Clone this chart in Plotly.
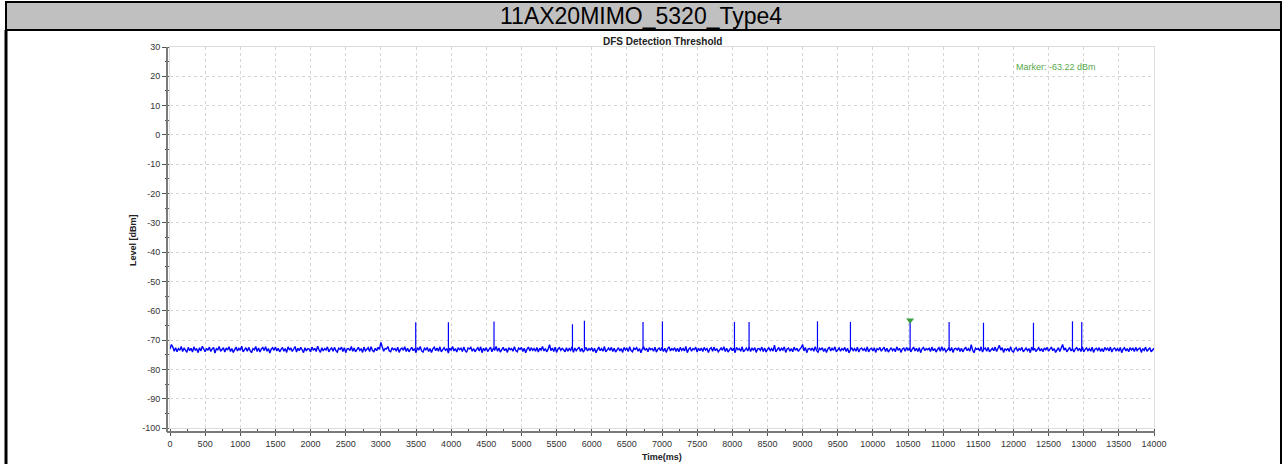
import plotly.graph_objects as go

# ---------------- data ----------------
chart_title = "11AX20MIMO_5320_Type4"
plot_title = "DFS Detection Threshold"
x_label = "Time(ms)"
y_label = "Level [dBm]"
marker_label = "Marker: -63.22 dBm"

x_tick_values = [0, 500, 1000, 1500, 2000, 2500, 3000, 3500, 4000, 4500, 5000, 5500, 6000, 6500, 7000,
                 7500, 8000, 8500, 9000, 9500, 10000, 10500, 11000, 11500, 12000, 12500, 13000, 13500, 14000]
x_tick_labels = ["0", "500", "1000", "1500", "2000", "2500", "3000", "3500", "4000", "4500", "5000",
                 "5500", "6000", "6500", "7000", "7500", "8000", "8500", "9000", "9500", "10000",
                 "10500", "11000", "11500", "12000", "12500", "13000", "13500", "14000"]
y_tick_values = [-100, -90, -80, -70, -60, -50, -40, -30, -20, -10, 0, 10, 20, 30]
y_tick_labels = ["-100", "-90", "-80", "-70", "-60", "-50", "-40", "-30", "-20", "-10", "0", "10", "20", "30"]

sample_interval_ms = 20
noise_dbm = [
    -73.1, -71.5, -72.4, -73.8, -72.6, -74.0, -72.9, -73.5, -72.2, -73.9, -72.7, -73.3, -74.2, -72.5, -73.6, -72.8, -74.1, -72.3, -73.4, -73.0,
    -74.3, -72.6, -73.7, -72.1, -73.2, -74.0, -72.8, -73.5, -72.4, -73.9, -73.0, -72.5, -74.4, -72.9, -73.3, -72.2, -73.8, -73.1, -72.6, -74.1,
    -72.7, -73.4, -72.3, -73.9, -72.9, -74.2, -73.0, -72.4, -73.7, -72.8, -73.5, -72.1, -74.0, -73.2, -72.6, -73.8, -72.5, -73.6, -74.3, -72.9,
    -73.3, -72.2, -73.9, -72.7, -74.1, -73.0, -72.5, -73.6, -72.3, -73.8, -72.9, -74.4, -73.1, -72.6, -73.5, -72.4, -73.7, -72.8, -74.0, -73.2,
    -72.5, -73.8, -72.9, -74.2, -72.3, -73.4, -72.7, -73.9, -73.0, -72.2, -74.1, -72.8, -73.6, -72.5, -73.3, -74.3, -72.6, -73.7, -72.9, -73.1,
    -74.0, -72.4, -73.5, -72.8, -73.9, -72.1, -73.3, -74.2, -72.6, -73.7, -72.9, -73.4, -72.3, -74.0, -73.1, -72.7, -73.8, -72.5, -73.6, -74.1,
    -72.8, -73.2, -72.4, -73.9, -72.6, -74.3, -73.0, -72.9, -73.6, -72.2, -73.8, -72.7, -74.0, -73.3, -72.5, -73.5, -72.9, -74.2, -72.4, -73.7,
    -73.1, -72.6, -73.9, -72.3, -73.4, -74.1, -72.8, -73.6, -72.5, -73.2, -70.8, -72.7, -73.8, -72.9, -73.0, -72.2, -73.7, -74.0, -72.6, -73.3,
    -72.9, -73.8, -72.4, -74.2, -73.1, -72.7, -73.5, -72.3, -73.9, -72.8, -74.0, -73.2, -72.5, -73.6, -72.9, -74.3, -72.6, -73.4, -72.2, -73.7,
    -74.1, -72.8, -73.3, -72.5, -73.9, -72.9, -74.2, -73.0, -72.4, -73.6, -72.7, -73.8, -72.3, -74.0, -73.1, -72.6, -73.5, -72.9, -74.4, -72.8,
    -73.4, -72.2, -73.7, -72.9, -74.1, -72.6, -73.3, -72.8, -73.9, -72.4, -73.6, -74.2, -72.7, -73.0, -72.5, -73.8, -72.9, -74.0, -73.2, -72.6,
    -73.7, -72.3, -74.3, -72.8, -73.5, -72.6, -73.9, -73.1, -72.4, -74.0, -72.9, -73.4, -72.2, -73.8, -72.7, -74.1, -73.0, -72.5, -73.6, -72.9,
    -74.2, -72.6, -73.3, -72.9, -73.8, -72.3, -73.6, -74.0, -72.7, -73.2, -72.5, -73.9, -72.8, -74.3, -73.1, -72.4, -73.7, -72.6, -73.5, -72.9,
    -73.8, -72.5, -74.1, -72.8, -73.4, -72.2, -73.7, -72.9, -74.0, -73.1, -71.6, -73.6, -72.7, -73.9, -72.4, -74.2, -73.0, -72.6, -73.5, -72.8,
    -73.3, -74.0, -72.6, -73.8, -72.9, -73.5, -72.3, -74.2, -72.7, -73.6, -73.0, -72.4, -73.9, -72.8, -74.1, -73.2, -72.5, -73.7, -72.9, -73.4,
    -72.6, -73.9, -72.8, -74.3, -73.0, -72.4, -73.6, -72.9, -73.8, -72.2, -74.0, -73.3, -72.7, -73.5, -72.5, -73.9, -72.8, -74.1, -73.1, -72.6,
    -73.7, -72.9, -74.2, -72.5, -73.4, -72.8, -73.9, -72.3, -73.6, -74.0, -72.7, -73.2, -72.6, -73.8, -72.9, -74.3, -73.0, -72.4, -73.5, -72.8,
    -74.0, -72.6, -73.3, -72.9, -73.8, -72.4, -74.1, -73.1, -72.7, -73.6, -72.5, -73.9, -72.8, -74.2, -73.0, -72.3, -73.7, -72.9, -73.4, -72.6,
    -73.9, -72.8, -74.0, -72.5, -73.5, -72.9, -73.7, -72.2, -74.3, -73.1, -72.6, -73.8, -72.9, -73.3, -72.4, -74.1, -72.8, -73.6, -72.7, -73.9,
    -72.5, -73.4, -72.9, -74.2, -73.0, -72.6, -73.8, -72.4, -73.6, -72.9, -74.0, -73.2, -72.7, -73.5, -72.3, -73.9, -72.8, -74.1, -73.1, -72.6,
    -73.6, -72.8, -74.3, -72.5, -73.3, -72.9, -73.8, -72.3, -74.0, -73.1, -72.7, -73.7, -72.4, -73.9, -72.8, -73.4, -72.6, -74.2, -73.0, -72.9,
    -73.5, -72.4, -73.9, -72.7, -74.1, -73.2, -72.6, -73.6, -72.9, -73.8, -71.7, -74.0, -73.1, -72.5, -73.7, -72.8, -73.4, -72.3, -74.2, -73.0,
    -72.7, -73.8, -72.9, -74.0, -72.4, -73.5, -72.8, -73.9, -73.1, -72.6, -71.5, -73.7, -72.5, -74.3, -73.0, -72.9, -73.4, -72.7, -73.8, -72.3,
    -73.6, -74.1, -72.8, -73.3, -72.6, -73.9, -72.9, -74.2, -73.0, -72.4, -73.7, -72.8, -73.5, -72.3, -74.0, -73.1, -72.7, -73.8, -72.9, -73.4,
    -72.5, -73.9, -72.8, -74.3, -73.2, -72.6, -73.6, -72.9, -73.8, -72.4, -74.1, -73.0, -72.7, -73.5, -72.9, -73.9, -72.3, -74.0, -73.1, -72.8,
    -73.7, -72.6, -74.2, -72.9, -73.3, -72.5, -73.8, -73.0, -72.4, -73.9, -72.8, -74.1, -73.2, -72.6, -73.6, -72.9, -74.0, -72.3, -73.5, -72.8,
    -74.2, -73.0, -72.7, -73.8, -72.5, -73.4, -72.9, -74.0, -73.1, -72.4, -73.7, -72.8, -73.9, -72.6, -74.3, -73.0, -72.5, -73.6, -72.9, -73.3,
    -72.8, -73.9, -72.4, -73.6, -72.9, -74.1, -73.2, -72.6, -73.8, -72.3, -73.5, -72.9, -74.0, -73.1, -72.7, -73.7, -72.5, -74.2, -73.0, -72.8,
    -73.4, -72.6, -73.9, -72.8, -74.0, -73.1, -72.4, -73.6, -72.9, -73.8, -71.6, -73.5, -74.3, -72.7, -73.2, -72.9, -73.7, -72.3, -74.1, -73.0,
    -72.7, -73.8, -72.5, -74.0, -73.3, -72.8, -73.6, -72.4, -73.9, -73.0, -71.8, -73.4, -72.6, -74.2, -72.9, -73.5, -72.8, -73.9, -72.3, -73.7,
    -74.1, -73.0, -72.6, -73.8, -72.9, -73.4, -72.5, -74.0, -73.2, -72.7, -73.6, -72.9, -74.3, -72.4, -73.5, -72.8, -73.9, -73.1, -72.6, -73.7,
    -72.9, -74.0, -72.7, -73.3, -72.5, -73.8, -73.0, -72.4, -73.6, -72.9, -74.2, -73.1, -72.6, -73.9, -72.8, -71.5, -73.4, -72.7, -74.0, -73.2,
    -72.5, -73.7, -72.9, -74.1, -73.0, -72.6, -73.5, -72.8, -73.9, -72.3, -74.0, -73.2, -72.7, -73.6, -72.9, -73.8, -72.4, -74.2, -73.1, -72.8,
    -73.5, -72.6, -73.9, -72.9, -74.0, -72.5, -73.3, -72.8, -73.7, -72.4, -74.1, -73.0, -72.7, -73.6, -72.9, -73.8, -72.5, -74.3, -73.1, -72.6,
    -73.7, -72.9, -74.0, -72.6, -73.4, -72.8, -73.9, -72.5, -73.6, -73.0, -72.7, -74.2, -72.9, -73.5, -72.4, -73.8, -73.1, -72.6, -74.0, -73.2,
    -72.8,
]

pulse_times_ms = [3496, 3961, 4610, 5726, 5896, 6730, 7006, 8031, 8239, 9212,
                  9681, 10530, 11085, 11574, 12285, 12840, 12972]
pulse_peak_dbm = [-63.9, -63.9, -63.7, -64.6, -63.4, -63.8, -63.6, -63.8, -63.8, -63.6,
                  -63.8, -63.22, -63.8, -64.1, -64.1, -63.6, -63.8]
pulse_base_dbm = [-73.2, -73.3, -73.1, -73.2, -73.0, -73.3, -73.1, -73.2, -73.0, -73.2,
                  -73.1, -73.3, -73.2, -73.1, -73.0, -73.3, -73.2]

marker_time_ms = 10530
marker_level_dbm = -63.22

x_range = [0, 14000]
y_range = [-100, 30]

# ---------------- layout helpers ----------------
W, H = 1282, 464
L, R, T, B = 170, 128, 47, 36
PW, PH = W - L - R, H - T - B


def px(x):
    return (x - L) / PW


def py(y):
    return (H - B - y) / PH


noise_times = [i * sample_interval_ms for i in range(len(noise_dbm))]

pulse_x, pulse_y = [], []
for t, base, peak in zip(pulse_times_ms, pulse_base_dbm, pulse_peak_dbm):
    pulse_x += [t, t, None]
    pulse_y += [base, peak, None]

fig = go.Figure()
fig.add_trace(go.Scatter(x=noise_times, y=noise_dbm, mode="lines",
                         line=dict(color="#0000ff", width=1.4), hoverinfo="skip"))
fig.add_trace(go.Scatter(x=pulse_x, y=pulse_y, mode="lines",
                         line=dict(color="#0000ff", width=1.2), hoverinfo="skip"))
fig.add_trace(go.Scatter(x=[marker_time_ms], y=[marker_level_dbm], mode="markers",
                         marker=dict(symbol="triangle-down", size=7, color="#3aa040"),
                         hoverinfo="skip"))

tick_font = dict(family="Liberation Sans Narrow, Arial Narrow, Liberation Sans, Arial",
                 size=9, color="#333333")
grid_color = "#d6d6d6"

fig.update_xaxes(range=x_range, tickmode="array", tickvals=x_tick_values, ticktext=x_tick_labels,
                 showgrid=True, gridcolor=grid_color,
                 griddash="3px,3px", gridwidth=1, zeroline=False,
                 showline=True, linecolor="#dddddd", linewidth=1, mirror=True,
                 ticks="outside", ticklen=7, tickcolor="#555555", tickfont=tick_font,
                 minor=dict(dtick=250, tick0=0, ticks="outside", ticklen=4, tickcolor="#555555", showgrid=False))
fig.update_yaxes(range=y_range, tickmode="array", tickvals=y_tick_values, ticktext=y_tick_labels,
                 showgrid=True, gridcolor=grid_color,
                 griddash="3px,3px", gridwidth=1, zeroline=False,
                 showline=True, linecolor="#dddddd", linewidth=1, mirror=True,
                 ticks="outside", ticklen=7, tickcolor="#555555", tickfont=tick_font,
                 minor=dict(dtick=5, tick0=0, ticks="outside", ticklen=4, tickcolor="#555555", showgrid=False))

shapes = [
    # title bar
    dict(type="rect", xref="paper", yref="paper", x0=px(6), x1=px(1281), y0=py(30), y1=py(2),
         fillcolor="#c0c0c0", line=dict(color="#000000", width=2), layer="below"),
    # outer left / right borders
    dict(type="line", xref="paper", yref="paper", x0=px(6), x1=px(6), y0=py(30), y1=py(465),
         line=dict(color="#000000", width=3)),
    dict(type="line", xref="paper", yref="paper", x0=px(1281), x1=px(1281), y0=py(30), y1=py(465),
         line=dict(color="#000000", width=2)),
    # axis lines offset from plot area
    dict(type="line", xref="paper", yref="paper", x0=px(167), x1=px(167), y0=py(47), y1=py(432),
         line=dict(color="#7a7a7a", width=2)),
    dict(type="line", xref="paper", yref="paper", x0=px(167), x1=px(1155), y0=py(432), y1=py(432),
         line=dict(color="#7a7a7a", width=2)),
]

annotations = [
    dict(text=chart_title, xref="paper", yref="paper", x=px(641), y=py(16),
         xanchor="center", yanchor="middle", showarrow=False,
         font=dict(family="Liberation Sans, Arial", size=23, color="#000000")),
    dict(text="<b>" + plot_title + "</b>", xref="paper", yref="paper", x=0.5, y=py(41),
         xanchor="center", yanchor="middle", showarrow=False,
         font=dict(family="Liberation Sans, Arial", size=10, color="#222222")),
    dict(text="<b>" + y_label + "</b>", xref="paper", yref="paper", x=px(133), y=py(240),
         xanchor="center", yanchor="middle", showarrow=False, textangle=-90,
         font=dict(family="Liberation Sans, Arial", size=9, color="#222222")),
    dict(text="<b>" + x_label + "</b>", xref="paper", yref="paper", x=0.5, y=py(457),
         xanchor="center", yanchor="middle", showarrow=False,
         font=dict(family="Liberation Sans, Arial", size=9, color="#222222")),
    dict(text=marker_label, xref="paper", yref="paper", x=px(1056), y=py(67),
         xanchor="center", yanchor="middle", showarrow=False,
         font=dict(family="Liberation Sans Narrow, Arial Narrow, Liberation Sans", size=9,
                   color="#55a84a")),
]

fig.update_layout(width=W, height=H, autosize=False,
                  margin=dict(l=L, r=R, t=T, b=B, pad=0),
                  paper_bgcolor="#ffffff", plot_bgcolor="#ffffff",
                  showlegend=False, shapes=shapes, annotations=annotations)

fig.write_html("out.html", config={"displayModeBar": False},
               post_script="document.body.style.margin='0';document.body.style.overflow='hidden';")
